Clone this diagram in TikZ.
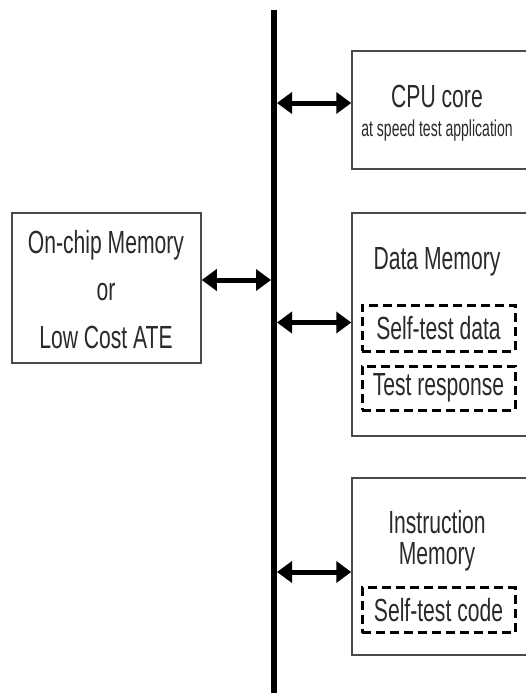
\documentclass[tikz,border=0pt]{standalone}
\usepackage{fontspec}
\setmainfont{Liberation Sans}[FakeStretch=0.66]
\newfontfamily\narrowfont{Liberation Sans}[FakeStretch=0.61]
\usetikzlibrary{arrows.meta,calc}
\definecolor{boxgray}{HTML}{4A4A4A}
\definecolor{txtgray}{HTML}{2A2A2A}
\tikzset{
  blockbox/.style={draw=boxgray,line width=1.5pt,fill=white,inner sep=0pt},
  dashbox/.style={draw=black,line width=3pt,dash pattern=on 9pt off 5pt,inner sep=0pt},
  bigtxt/.style={font=\fontsize{32}{34}\selectfont,text=txtgray,inner sep=0pt},
  smalltxt/.style={font=\narrowfont\fontsize{23}{25}\selectfont,text=txtgray,inner sep=0pt},
  busline/.style={line width=6pt,black},
  link/.style={line width=5pt,black,{Triangle[length=15pt,width=21pt]}-{Triangle[length=15pt,width=21pt]}}
}
\begin{document}
\begin{tikzpicture}[x=1pt,y=-1pt]
\useasboundingbox (0,0) rectangle (525,693);
% bus
\coordinate (bustop) at (274,10);
\coordinate (busbot) at (274,700);
\draw[busline] (bustop) -- (busbot);
% boxes
\node[blockbox,minimum width=176pt,minimum height=118pt] (cpu) at (440,110) {};
\node[blockbox,minimum width=189pt,minimum height=150pt] (ext) at (106.5,288) {};
\node[blockbox,minimum width=176pt,minimum height=223pt] (dmem) at (440,324.5) {};
\node[blockbox,minimum width=176pt,minimum height=177pt] (imem) at (440,566.5) {};
% dashed inner boxes
\node[dashbox,minimum width=153pt,minimum height=46pt] (sdata) at (438.5,328) {};
\node[dashbox,minimum width=153pt,minimum height=44pt] (tresp) at (438.5,388) {};
\node[dashbox,minimum width=153pt,minimum height=45pt] (scode) at (438.5,610) {};
% texts
\node[bigtxt] (cputxt) at (437,96) {CPU core};
\node[smalltxt] (cpusub) at (437,131) {at speed test application};
\node[bigtxt] (exta) at (106,245) {On-chip Memory};
\node[bigtxt] (extb) at (106,292) {or};
\node[bigtxt] (extc) at (106,337) {Low Cost ATE};
\node[bigtxt] (dtxt) at (437,262) {Data Memory};
\node[bigtxt] at (sdata) {Self-test data};
\node[bigtxt] at (tresp) {Test response};
\node[bigtxt] (itxta) at (437,522) {Instruction};
\node[bigtxt] (itxtb) at (437,557) {Memory};
\node[bigtxt] at (scode) {Self-test code};
% connectors
\draw[link] ([yshift=7pt]cpu.west -| bustop) ++(3,0) -- ([yshift=7pt]cpu.west);
\draw[link] ([yshift=8pt]ext.east) -- ([yshift=8pt,xshift=-3pt]ext.east -| bustop);
\draw[link] ([yshift=2pt]dmem.west -| bustop) ++(3,0) -- ([yshift=2pt]dmem.west);
\draw[link] ([yshift=-5.5pt]imem.west -| bustop) ++(3,0) -- ([yshift=-5.5pt]imem.west);
\end{tikzpicture}
\end{document}
